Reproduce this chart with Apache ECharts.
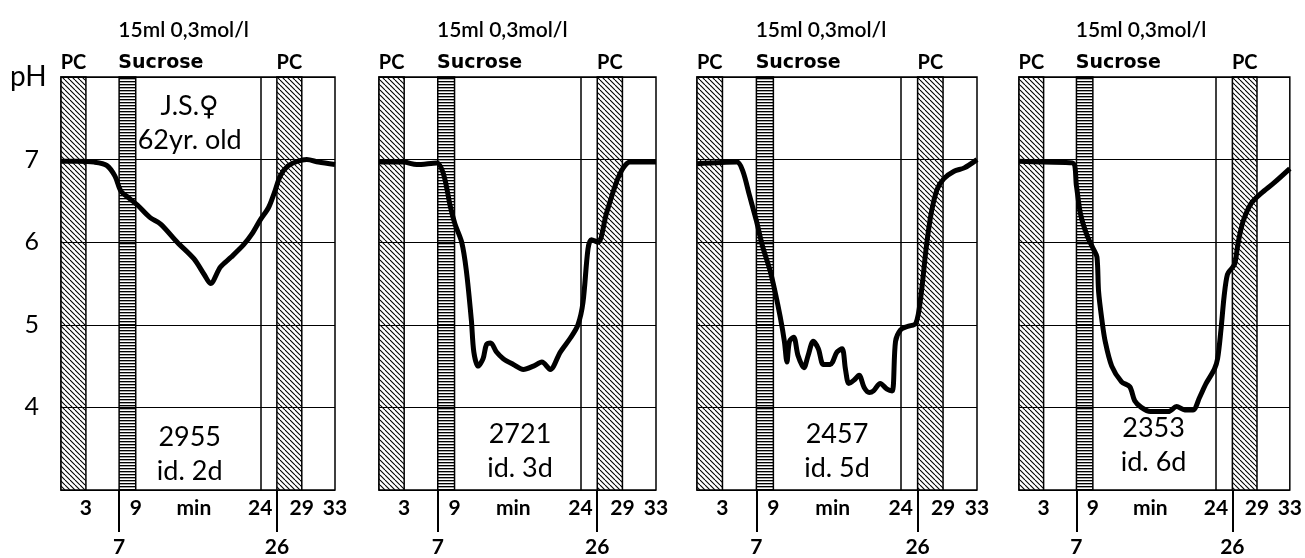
<!DOCTYPE html>
<html lang="en">
<head>
<meta charset="UTF-8">
<title>pH after sucrose</title>
<script src="https://cdn.jsdelivr.net/npm/echarts@6/dist/echarts.min.js"></script>
</head>
<body style="margin:0;background:#fff">
<div id="main" style="width:1305px;height:558px;"></div>
<script>
// minutes shown under the axis, and the two long ticks on the lower row
var xTicks = [3, 9, 16, 24, 29, 33];
var xTicksLow = [7, 26];
var yTicks = [4, 5, 6, 7];
var pcBands = [[0, 3], [26, 29]];
var sucroseBand = [7, 9];
var refLine = 24;

var doseText = '15ml 0,3mol/l';
var patientText = 'J.S.♀\n62yr. old';
var patientAt = [15.5, 7.44];
var caseNo = ['2955', '2721', '2457', '2353'];
var caseDay = ['id. 2d', 'id. 3d', 'id. 5d', 'id. 6d'];
var caseAt = [[15.5, 3.43], [16.8, 3.47], [16.5, 3.47], [16.4, 3.54]];

// [min, pH]
var curve1 = [[0,6.98],[2,6.98],[4,6.97],[5.5,6.93],[6.5,6.8],[7.2,6.62],[8,6.55],[9.2,6.45],[10.7,6.3],[12,6.22],[14,6.0],[16,5.8],[17.3,5.6],[18,5.5],[19.2,5.7],[20.5,5.82],[22,5.97],[23,6.1],[24,6.27],[25,6.42],[25.7,6.6],[26.4,6.8],[27.3,6.92],[28.5,6.98],[29.6,7.0],[31,6.97],[33,6.94]];
var curve2 = [[0,6.97],[2.9,6.97],[4.5,6.94],[6.9,6.96],[7.7,6.82],[8.5,6.43],[9.05,6.22],[9.85,6.0],[10.4,5.66],[11.0,5.06],[11.3,4.67],[11.8,4.5],[12.4,4.59],[12.8,4.76],[13.3,4.78],[14.0,4.67],[14.8,4.59],[16.0,4.52],[17.2,4.46],[18.4,4.5],[19.4,4.55],[20.4,4.46],[21.6,4.67],[22.8,4.84],[23.7,5.0],[24.3,5.27],[24.9,5.92],[25.3,6.03],[26.1,6.0],[27.1,6.35],[28.3,6.73],[29.1,6.9],[29.9,6.97],[33,6.97]];
var curve3 = [[0,6.95],[4.7,6.97],[5.4,6.86],[6.2,6.56],[7.0,6.26],[7.7,5.96],[8.6,5.66],[9.2,5.4],[9.8,5.1],[10.3,4.8],[10.6,4.55],[10.9,4.8],[11.4,4.85],[11.9,4.63],[12.6,4.48],[13.1,4.63],[13.7,4.8],[14.3,4.71],[14.9,4.52],[15.7,4.52],[16.5,4.67],[17.1,4.71],[17.5,4.46],[17.9,4.29],[18.5,4.33],[19.1,4.39],[19.7,4.24],[20.3,4.18],[20.8,4.2],[21.6,4.29],[22.4,4.22],[23.0,4.2],[23.4,4.8],[24.0,4.94],[24.8,4.98],[25.8,5.02],[26.4,5.36],[27.0,5.92],[27.6,6.35],[28.3,6.64],[29.1,6.77],[30.3,6.86],[31.5,6.9],[33,7.0]];
var curve4 = [[0,6.98],[3,6.97],[6.5,6.96],[7.0,6.68],[7.5,6.34],[8.3,6.08],[9.1,5.91],[9.5,5.82],[9.7,5.4],[10.1,5.06],[10.5,4.8],[11.3,4.5],[12.5,4.31],[13.5,4.25],[14.1,4.08],[14.9,4.0],[16.0,3.95],[17.2,3.95],[18.2,3.95],[19.2,4.01],[20.2,3.97],[21.2,3.97],[22.0,4.12],[22.8,4.29],[23.8,4.46],[24.2,4.59],[24.6,4.93],[25.0,5.35],[25.4,5.61],[25.9,5.68],[26.3,5.74],[26.7,5.99],[27.3,6.25],[28.3,6.47],[29.5,6.59],[31.1,6.72],[33,6.89]];
var curves = [curve1, curve2, curve3, curve4];

var FONT = 'Lato, "DejaVu Sans", sans-serif';
var WIDE = '"DejaVu Sans", sans-serif';
var gridLeft = [61, 379, 697, 1019];
var gridWidth = [274, 277, 280, 278];

// hatch patterns for the bands
function diagHatch() {
  var s = 5, c = document.createElement('canvas');
  c.width = s; c.height = s;
  var g = c.getContext('2d');
  g.fillStyle = '#fff'; g.fillRect(0, 0, s, s);
  g.strokeStyle = '#000'; g.lineWidth = 1.1;
  [-s, 0, s].forEach(function (k) {
    g.beginPath(); g.moveTo(k, 0); g.lineTo(k + s, s); g.stroke();
  });
  return { image: c, repeat: 'repeat' };
}
function rowHatch() {
  var c = document.createElement('canvas');
  c.width = 4; c.height = 3;
  var g = c.getContext('2d');
  g.fillStyle = '#fff'; g.fillRect(0, 0, 4, 3);
  g.fillStyle = '#000'; g.fillRect(0, 0, 4, 1);
  g.fillStyle = 'rgba(0,0,0,0.35)'; g.fillRect(0, 1, 4, 1);
  return { image: c, repeat: 'repeat' };
}
var pcFill = diagHatch();
var sucFill = rowHatch();

var grids = [], xAxes = [], yAxes = [], series = [];
for (var i = 0; i < 4; i++) {
  grids.push({ left: gridLeft[i], width: gridWidth[i], top: 77, height: 414,
    show: true, borderColor: '#000', borderWidth: 1.5, backgroundColor: 'transparent' });
  xAxes.push({
    type: 'value', gridIndex: i, min: 0, max: 33, position: 'bottom',
    axisLine: { show: false }, axisTick: { show: false }, splitLine: { show: false },
    axisLabel: { customValues: xTicks, margin: 8, color: '#000', fontSize: 21, fontWeight: 'bold', fontFamily: FONT,
      formatter: function (v) { return v === 16 ? 'min' : String(v); } }
  });
  yAxes.push({
    type: 'value', gridIndex: i, min: 3, max: 8, interval: 1, z: 3,
    axisLine: { show: false }, axisTick: { show: false },
    splitLine: { lineStyle: { color: '#000', width: 1.2 } },
    axisLabel: { show: i === 0, customValues: yTicks, margin: 22, color: '#000', fontSize: 25, fontFamily: FONT }
  });

  var areas = pcBands.map(function (b) {
    return [{ xAxis: b[0], itemStyle: { color: pcFill },
      label: { show: true, position: 'top', distance: 4, formatter: 'PC', color: '#000', fontSize: 20, fontWeight: 'bold', fontFamily: FONT } },
      { xAxis: b[1] }];
  });
  areas.push([{ xAxis: sucroseBand[0], itemStyle: { color: sucFill },
    label: { show: true, position: [0, -1], align: 'left', verticalAlign: 'bottom',
      formatter: '{a|' + doseText + '}\n{b|Sucrose}',
      rich: { a: { fontSize: 21, fontWeight: 600, lineHeight: 43, color: '#000', fontFamily: FONT },
              b: { fontSize: 19, fontWeight: 'bold', lineHeight: 24, color: '#000', fontFamily: WIDE } } } },
    { xAxis: sucroseBand[1] }]);

  var notes = [{ coord: caseAt[i], value: caseNo[i] + '\n' + caseDay[i] }];
  if (i === 0) notes.push({ coord: patientAt, value: patientText });

  series.push({
    type: 'line', xAxisIndex: i, yAxisIndex: i, data: curves[i],
    smooth: 0.3, symbol: 'none', z: 5,
    lineStyle: { color: '#000', width: 5 },
    markArea: { silent: true, itemStyle: { borderColor: '#000', borderWidth: 1.5 }, data: areas },
    markLine: { silent: true, symbol: 'none', label: { show: false },
      lineStyle: { color: '#000', width: 1.5, type: 'solid' }, data: [{ xAxis: refLine }] },
    markPoint: { silent: true, symbol: 'rect', symbolSize: 1, itemStyle: { color: 'transparent' },
      label: { show: true, position: 'inside', formatter: function (p) { return p.value; },
        color: '#000', fontSize: 27, lineHeight: 34, fontFamily: FONT },
      data: notes }
  });
}
// lower row: long ticks at 7 and 26
for (var j = 0; j < 4; j++) {
  xAxes.push({
    type: 'value', gridIndex: j, min: 0, max: 33, position: 'bottom',
    axisLine: { show: false }, splitLine: { show: false },
    axisTick: { show: true, customValues: xTicksLow, length: 42, lineStyle: { color: '#000', width: 2 } },
    axisLabel: { customValues: xTicksLow, margin: 47, color: '#000', fontSize: 21, fontWeight: 'bold', fontFamily: FONT }
  });
}

var chart = echarts.init(document.getElementById('main'));
chart.setOption({
  animation: false,
  backgroundColor: '#fff',
  grid: grids,
  xAxis: xAxes,
  yAxis: yAxes,
  series: series,
  graphic: [{ type: 'text', left: 10, top: 63, style: { text: 'pH', fontSize: 28, fill: '#000', fontFamily: FONT } }]
});
</script>
</body>
</html>
